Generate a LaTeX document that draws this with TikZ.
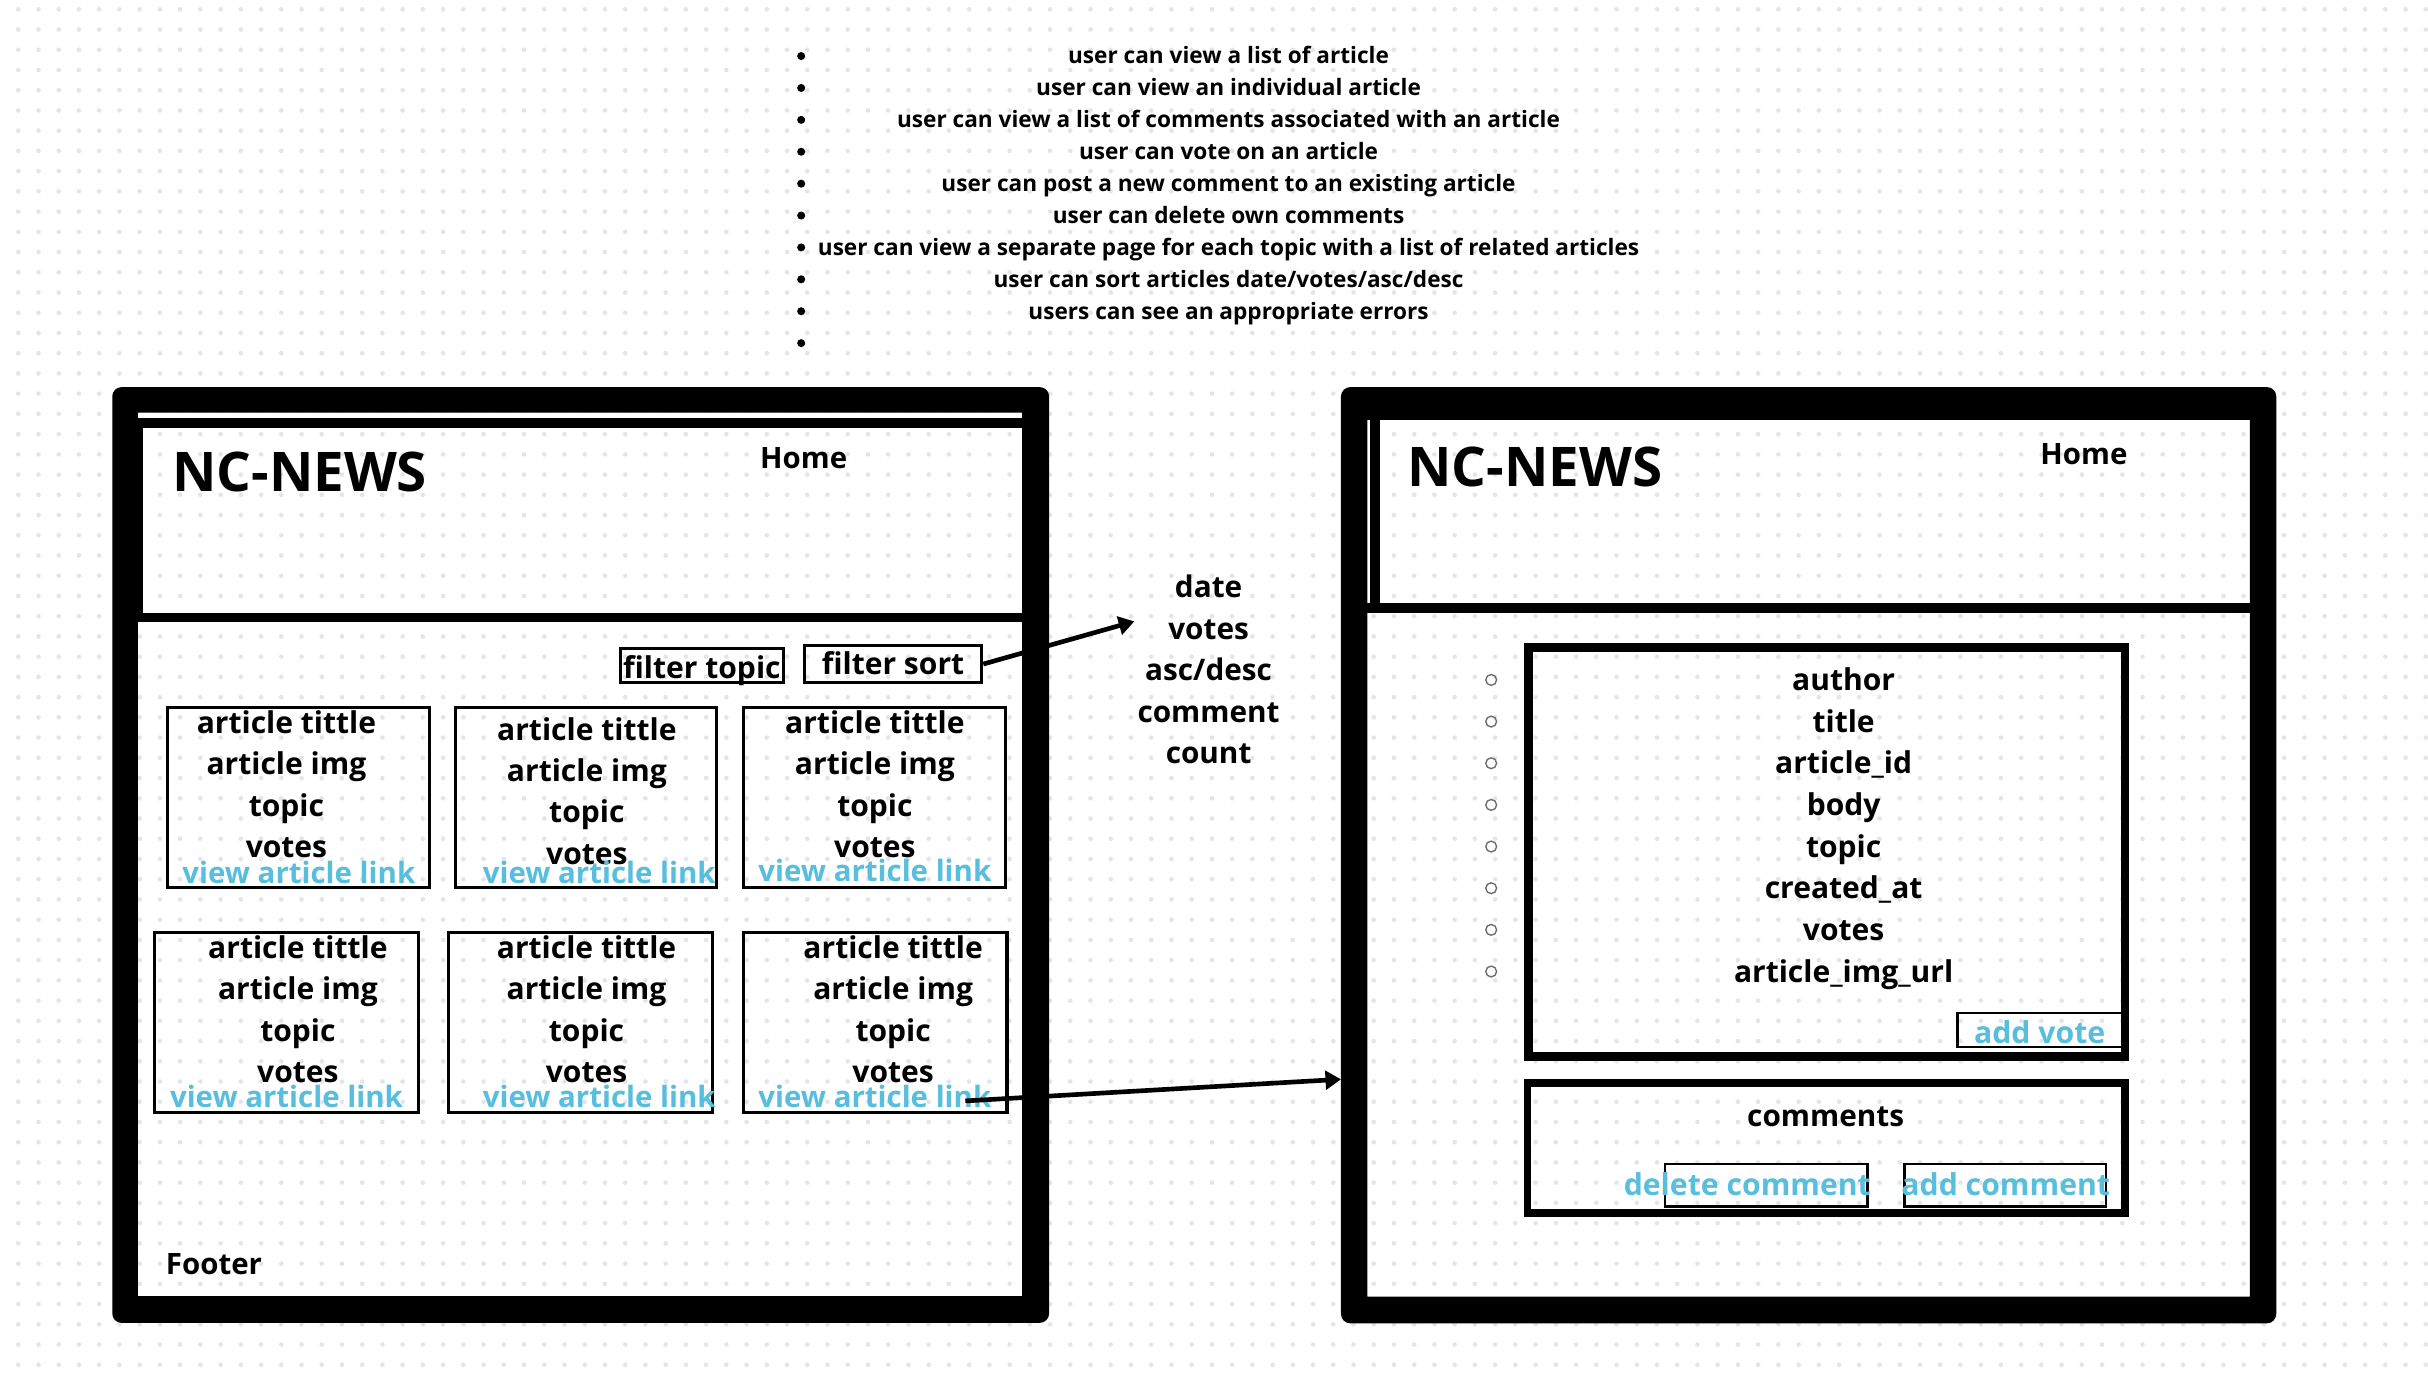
\documentclass[tikz,border=0pt]{standalone}
\usepackage{fontspec}
\setmainfont{Open Sans}
\usetikzlibrary{arrows.meta}
\definecolor{dotc}{RGB}{226,229,235}
\definecolor{linkblue}{RGB}{88,190,222}
\definecolor{circgray}{RGB}{110,110,110}
\newcommand\cardtxt[5]{%
  \node[txt] (#1t) at (#2,#4) {article tittle};
  \node[txt] (#1i) at (#2,#4+26.7) {article img};
  \node[txt] (#1p) at (#2,#4+53.4) {topic};
  \node[txt] (#1v) at (#2,#4+80.1) {votes};
  \node[lnk, font=\bfseries\fontsize{19}{24}\selectfont] (#1l) at (#3,#5) {view article link};
}
\begin{document}
\begin{tikzpicture}[x=1pt,y=-1pt,
  txt/.style={inner sep=0pt, anchor=base, font=\bfseries\fontsize{19.4}{24}\selectfont},
  lnk/.style={txt, text=linkblue, font=\bfseries\fontsize{19.5}{24}\selectfont},
  hometxt/.style={inner sep=0pt, anchor=base, font=\bfseries\fontsize{19}{24}\selectfont},
  bl/.style={inner sep=0pt, anchor=base, font=\bfseries\fontsize{14.6}{18}\selectfont},
  mid/.style={inner sep=0pt, anchor=base, font=\bfseries\fontsize{19.2}{23}\selectfont},
  logo/.style={inner sep=0pt, anchor=base west, font=\bfseries\fontsize{35.3}{40}\selectfont},
  box/.style={draw, line width=2pt, inner sep=0pt},
  thinbox/.style={draw, line width=1.8pt, inner sep=0pt},
  bigbox/.style={draw, line width=5.5pt, inner sep=0pt},
  arr/.style={line width=3pt, -{Triangle[length=10pt,width=12pt]}}
]
\useasboundingbox (0,0) rectangle (1568,890);
\fill[white] (0,0) rectangle (1568,890);
% dotted background
\foreach \j in {0,...,67} {
  \fill[dotc] \foreach \i in {0,...,119} { (11.8+13.065*\i, 6+13.065*\j) circle (1.5pt) };
}
% requirements list
\foreach \k in {0,...,9} { \fill (517.4, 36.2+20.6*\k) circle (2.6pt); }
\foreach \s [count=\k from 0] in {user can view a list of article,
  user can view an individual article,
  user can view a list of comments associated with an article,
  user can vote on an article,
  user can post a new comment to an existing article,
  user can delete own comments,
  user can view a separate page for each topic with a list of related articles,
  user can sort articles date/votes/asc/desc,
  users can see an appropriate errors} {
  \node[bl] (req\k) at (793.4, 40.9+20.7*\k) {\s};
}
% ---------------- left frame ----------------
\fill[black, even odd rule] {[rounded corners=6pt] (72.5,250) rectangle (677.5,854.3)} (89,266.5) rectangle (660,837);
\fill[white] (89,266.5) rectangle (660,270);
\fill[black] (89,270) rectangle (660,276.6);
\fill[black] (89,276.6) rectangle (92.3,396);
\fill[black] (89,395.7) rectangle (660,402);
\node[logo] (llogo) at (111,317.5) {NC-NEWS};
\node[hometxt] (lhome) at (519,302.4) {Home};
\node[hometxt, anchor=base west] (footer) at (107,823) {Footer};
% filters
\node[box, minimum width=104.7pt, minimum height=21.7pt] (ftopic) at (453.35,429.85) {};
\node[box, minimum width=114.4pt, minimum height=23.7pt] (fsort) at (576.8,428.85) {};
\node[txt] (ftopict) at (453.3,438) {filter topic};
\node[txt] (fsortt) at (576.7,435.9) {filter sort};
% cards
\node[box, minimum width=169.2pt, minimum height=116.3pt] (c1) at (192.5,515.2) {};
\node[box, minimum width=168.8pt, minimum height=116.3pt] (c2) at (378.6,515.2) {};
\node[box, minimum width=169.6pt, minimum height=116.3pt] (c3) at (564.8,515.2) {};
\node[box, minimum width=170.6pt, minimum height=116.4pt] (c4) at (184.9,660.2) {};
\node[box, minimum width=170.4pt, minimum height=116.4pt] (c5) at (374.9,660.2) {};
\node[box, minimum width=170.3pt, minimum height=116.4pt] (c6) at (565.15,660.2) {};
\cardtxt{a}{185}{193}{473.6}{570.4}
\cardtxt{b}{379}{387}{477.9}{570.4}
\cardtxt{c}{565}{565}{473.6}{569.4}
\cardtxt{d}{192.4}{185}{618.9}{715.1}
\cardtxt{e}{378.8}{387}{618.9}{715.1}
\cardtxt{f}{576.8}{565}{618.9}{715.1}
% sort options
\node[mid] (o1) at (780.5,385.7) {date};
\node[mid] (o2) at (780.5,413.3) {votes};
\node[mid] (o3) at (780.5,439.6) {asc/desc};
\node[mid] (o4) at (780.5,466.5) {comment};
\node[mid] (o5) at (780.5,493) {count};
% ---------------- right frame ----------------
\fill[black, even odd rule] {[rounded corners=6pt] (866,250) rectangle (1470,854.6)} (883,271.2) rectangle (1453,837.4);
\fill[black] (884.7,271.2) rectangle (891,396);
\fill[black] (883,389.6) rectangle (1453,396);
\node[logo] (rlogo) at (908.6,314.5) {NC-NEWS};
\node[hometxt] (rhome) at (1345.8,300) {Home};
% article box
\node[bigbox, minimum width=385.3pt, minimum height=264pt] (art) at (1179.6,550.25) {};
\foreach \s [count=\k from 0] in {author, title, article\_id, body, topic, created\_at, votes, article\_img\_url} {
  \draw[circgray, line width=0.9pt] (963, 439.1+26.9*\k) circle (3.5pt);
  \node[txt] (af\k) at (1190.6, 446+26.9*\k) {\s};
}
\node[thinbox, minimum width=106.4pt, minimum height=21.9pt] (vote) at (1317.1,665.15) {};
\node[lnk] (votet) at (1317.2,673.8) {add vote};
% comments box
\node[draw, line width=5pt, inner sep=0pt, minimum width=385.8pt, minimum height=84pt] (com) at (1179.4,741.5) {};
\node[mid] (comt) at (1179,727.2) {comments};
\node[thinbox, minimum width=130.6pt, minimum height=27.7pt] (del) at (1140.5,765.55) {};
\node[thinbox, minimum width=130.2pt, minimum height=27.7pt] (add) at (1295,765.55) {};
\node[lnk] (delt) at (1128.4,772.3) {delete comment};
\node[lnk] (addt) at (1295.3,772.3) {add comment};
% ---------------- connectors ----------------
\coordinate (sorttip) at (732.5,401.3);
\coordinate (artin) at (866,697);
\draw[arr] (fsort.east) -- (sorttip);
\draw[arr] ([xshift=-17pt,yshift=-3pt]fl.east) -- (artin);
\end{tikzpicture}
\end{document}
